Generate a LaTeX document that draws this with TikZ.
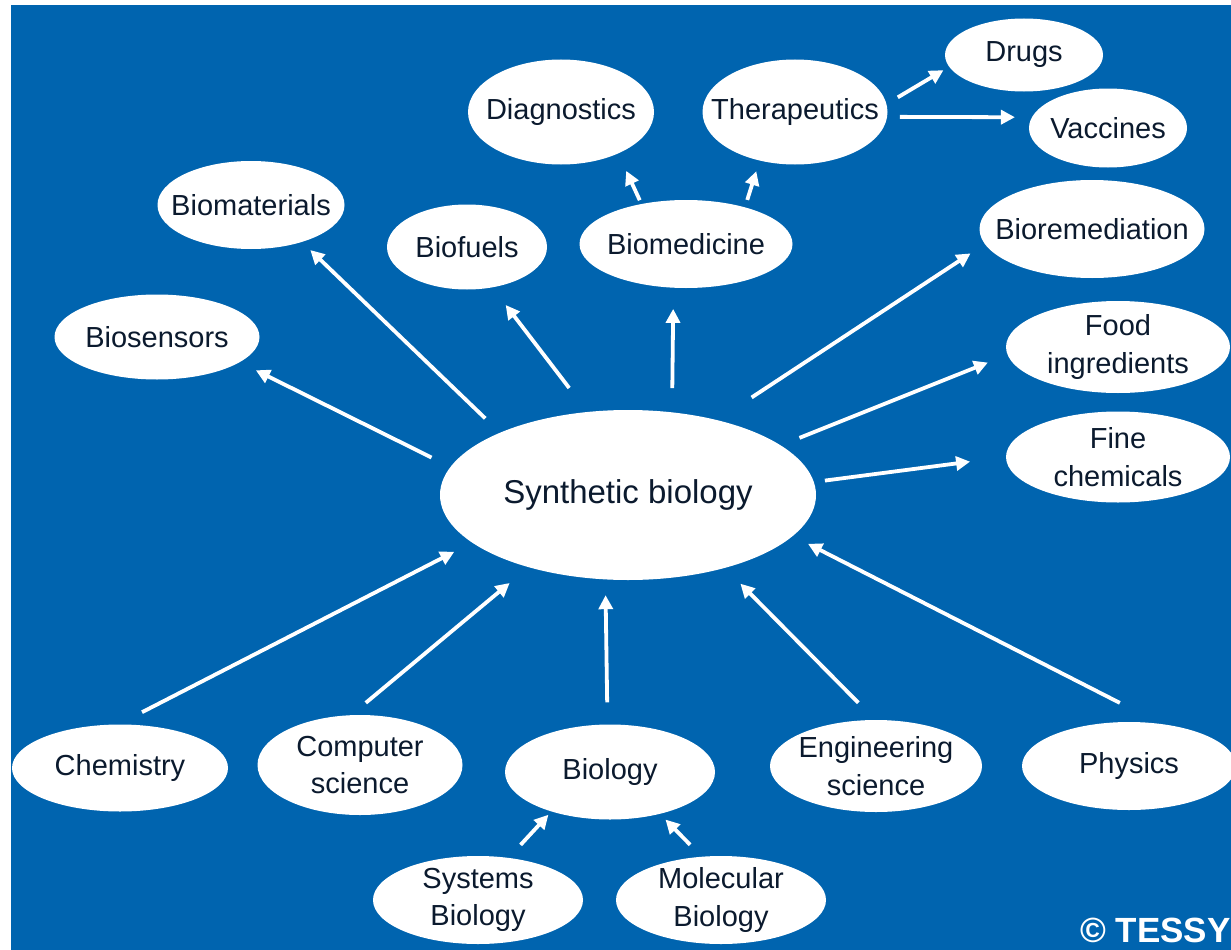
\documentclass[tikz,border=0pt]{standalone}
\usepackage{fontspec}
\setmainfont{Liberation Sans}
\usepackage{tikz}
\usetikzlibrary{arrows.meta,shapes.geometric}
\definecolor{SBblue}{HTML}{0064AF}
\definecolor{SBnavy}{HTML}{0B1A2E}
\tikzset{
  syn/topic/.style={ellipse, fill=white, text=SBnavy, inner xsep=-30pt, inner ysep=-10pt,
    align=center, font=\fontsize{29}{37.5}\selectfont},
  syn/hub/.style={syn/topic, font=\fontsize{33}{38}\selectfont},
  syn/sz/.style 2 args={minimum width=#1pt, minimum height=#2pt},
  syn/arr/.style={draw=white, line width=3.8pt, -{Triangle[length=14pt,width=14pt]}},
  syn/gap/.style 2 args={shorten <=#1pt, shorten >=#2pt}
}

\begin{document}
\begin{tikzpicture}[x=1pt, y=-1pt]
  \useasboundingbox (0,0) rectangle (1231,950);
  \clip (0,0) rectangle (1231,950);
  \fill[white] (0,0) rectangle (1231,950);
  \fill[SBblue] (11,5) rectangle (1231,950);

  % centre
  \node[syn/hub, syn/sz={376}{170}] (synth) at (628,495) {Synthetic biology};

  % applications
  \node[syn/topic, syn/sz={186}{105}] (diag)   at (561,112)  {Diagnostics};
  \node[syn/topic, syn/sz={185}{105}] (thera)  at (795,112)  {Therapeutics};
  \node[syn/topic, syn/sz={158}{73}]  (drugs)  at (1024,55)  {Drugs};
  \node[syn/topic, syn/sz={158}{79}]  (vacc)   at (1108,128) {Vaccines};
  \node[syn/topic, syn/sz={187}{88}]  (bmat)   at (251,205)  {Biomaterials};
  \node[syn/topic, syn/sz={160}{85}]  (bfuel)  at (467,247)  {Biofuels};
  \node[syn/topic, syn/sz={213}{88}]  (bmed)   at (686,244)  {Biomedicine};
  \node[syn/topic, syn/sz={225}{98}]  (bremed) at (1092,229) {Bioremediation};
  \node[syn/topic, syn/sz={205}{85}]  (bsens)  at (157,337)  {Biosensors};
  \node[syn/topic, syn/sz={224}{92}]  (food)   at (1118,347) {Food\\ingredients};
  \node[syn/topic, syn/sz={224}{91}]  (fine)   at (1118,457) {Fine\\chemicals};

  % disciplines
  \node[syn/topic, syn/sz={216}{87}]  (chem)   at (120,768)  {Chemistry};
  \node[syn/topic, syn/sz={205}{100}] (cs)     at (360,765)  {Computer\\science};
  \node[syn/topic, syn/sz={210}{95}]  (bio)    at (610,772)  {Biology};
  \node[syn/topic, syn/sz={212}{92}]  (eng)    at (876,766)  {Engineering\\science};
  \node[syn/topic, syn/sz={214}{88}]  (phys)   at (1129,766) {Physics};
  \node[syn/topic, syn/sz={210}{88}]  (sysbio) at (478,900)  {Systems\\Biology};
  \node[syn/topic, syn/sz={210}{88}]  (molbio) at (721,900)  {Molecular\\Biology};

  % outgoing arrows
  \draw[syn/arr, syn/gap={21}{18}]   (synth.171.6) -- (bsens.-17);
  \draw[syn/arr, syn/gap={20.5}{11.5}] (synth.154.7) -- (bmat.-36.1);
  \draw[syn/arr, syn/gap={30}{22}]   (synth.116.9) -- (bfuel.-58.7);
  \draw[syn/arr, syn/gap={24}{21}]   (synth.62.9) -- (bmed.-106.6);
  \draw[syn/arr, syn/gap={41}{17}]   (synth.40.2) -- (bremed.-172.9);
  \draw[syn/arr, syn/gap={20}{21}]   (synth.18.2) -- (food.-176.5);
  \draw[syn/arr, syn/gap={11}{36}]   (synth.4.6) -- (fine.180);
  \draw[syn/arr, syn/gap={4}{19}]    (bmed.138.9) -- (diag.-36.4);
  \draw[syn/arr, syn/gap={7.6}{11}]  (bmed.32) -- (thera.-126.2);
  \draw[syn/arr, syn/gap={13}{6.5}]  (thera.5.5) -- (drugs.-171.9);
  \draw[syn/arr, syn/gap={12.5}{16.8}] (thera.-3.4) -- (vacc.172.2);

  % incoming arrows
  \draw[syn/arr, syn/gap={26.5}{20}] (chem.92) -- (synth.-163);
  \draw[syn/arr, syn/gap={19}{24.5}] (cs.100.9) -- (synth.-144.8);
  \draw[syn/arr, syn/gap={22}{15.6}] (bio.93.6) -- (synth.-105.4);
  \draw[syn/arr, syn/gap={24}{22}]   (eng.91.5) -- (synth.-37.1);
  \draw[syn/arr, syn/gap={46}{17}]   (phys.53.8) -- (synth.-14.9);
  \draw[syn/arr, syn/gap={17.5}{4.3}] (sysbio.54.6) -- (bio.-146.3);
  \draw[syn/arr, syn/gap={16.5}{7.8}] (molbio.114.6) -- (bio.-40.3);

  \node[text=white, font=\fontsize{35}{40}\selectfont\bfseries, anchor=base west, inner sep=0pt] (tessy) at (1080,942) {© TESSY};
\end{tikzpicture}
\end{document}
